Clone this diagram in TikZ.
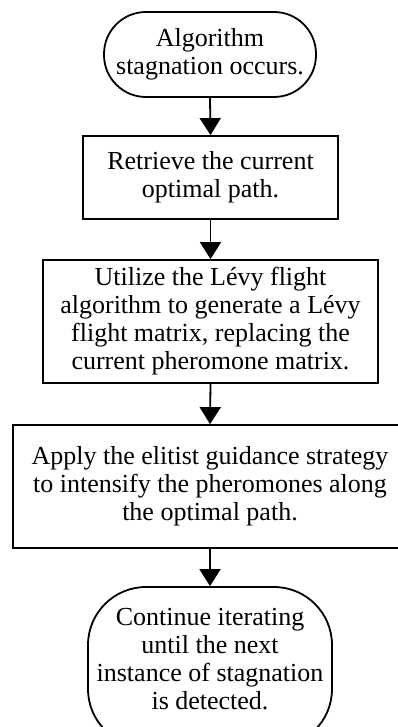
\documentclass[tikz,border=0pt]{standalone}
\usepackage{fontspec}
\setmainfont{Liberation Serif}
\usetikzlibrary{arrows.meta}
\tikzset{
  txt/.style={align=center, inner sep=0pt, font=\fontsize{26}{28}\selectfont},
  base/.style={txt, draw=black, line width=1.8pt},
  term/.style={base, rounded corners=42pt},
  proc/.style={base},
  flow/.style={line width=1.8pt, -{Triangle[width=21pt,length=17pt]}, shorten >=0pt}
}
\begin{document}
\begin{tikzpicture}[x=1pt,y=-1pt]
\useasboundingbox (0,0) rectangle (398,727);
\clip (0,0) rectangle (398,727);
\fill[white] (0,0) rectangle (398,727);
\node[term, minimum width=212pt, minimum height=85pt] (n1) at (210,54.5)
  {Algorithm\\stagnation occurs.};
\node[proc, minimum width=255pt, minimum height=83pt] (n2) at (210.5,177.5)
  {Retrieve the current\\optimal path.};
\node[proc, minimum width=335pt, minimum height=123pt] (n3) at (210.5,321.5)
  {Utilize the Lévy flight\\algorithm to generate a Lévy\\flight matrix, replacing the\\current pheromone matrix.};
\node[proc, minimum width=394pt, minimum height=123pt] (n4) at (210,486.5)
  {Apply the elitist guidance strategy\\to intensify the pheromones along\\the optimal path.};
\node[base, rounded corners=58pt, minimum width=244pt, minimum height=160pt] (n5) at (210,667)
  {};
\node[txt] (t5) at (210,659)
  {Continue iterating\\until the next\\instance of stagnation\\is detected.};
\draw[flow] (n1.south) -- (n2.north);
\draw[flow] (n2.south) -- (n3.north);
\draw[flow] (n3.south) -- (n4.north);
\draw[flow] (n4.south) -- (n5.north);
\end{tikzpicture}
\end{document}
